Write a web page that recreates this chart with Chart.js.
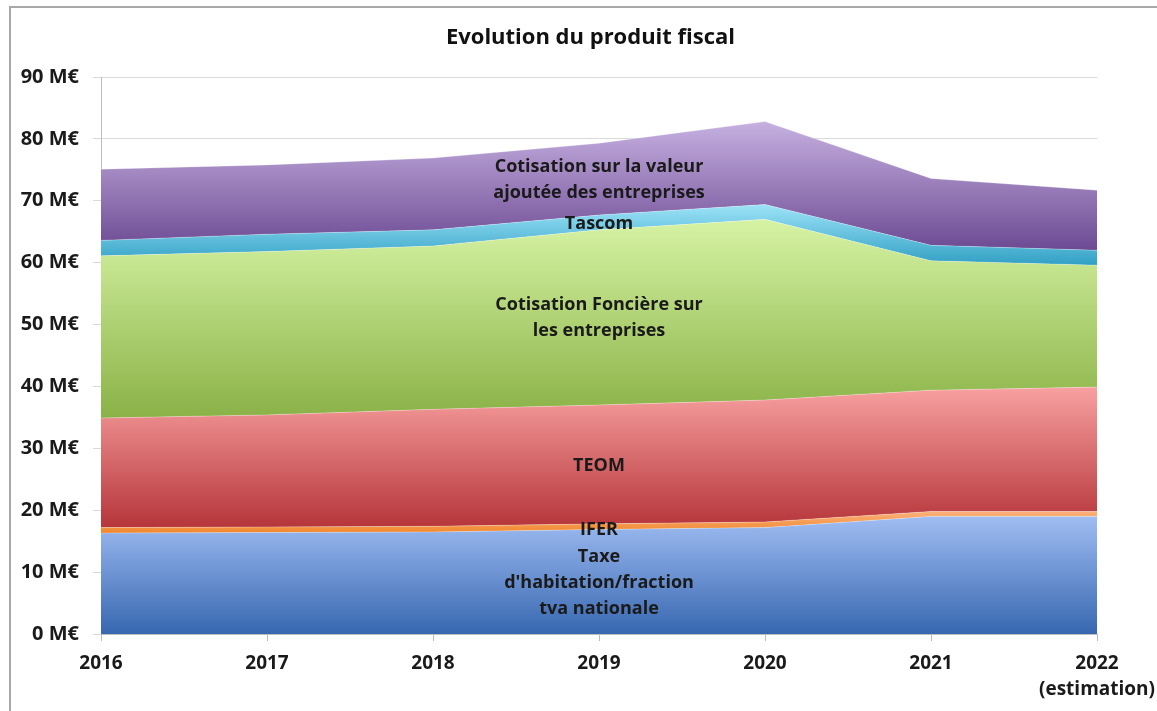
<!DOCTYPE html>
<html lang="fr">
<head>
<meta charset="utf-8">
<title>Evolution du produit fiscal</title>
<script src="https://cdn.jsdelivr.net/npm/chart.js@4.4.1/dist/chart.umd.min.js"></script>
<style>
  html, body { margin: 0; padding: 0; background: #fff; overflow: hidden; }
  #wrap { position: relative; width: 1157px; height: 711px; }
  #frame { position: absolute; left: 9px; top: 6px; width: 1300px; height: 900px;
           border-left: 2px solid #a8a8a8; border-top: 2px solid #a8a8a8; pointer-events: none; }
</style>
</head>
<body>
<div id="wrap">
  <canvas id="fiscalChart" width="1157" height="711"></canvas>
  <div id="frame"></div>
</div>
<script>
const years = ['2016', '2017', '2018', '2019', '2020', '2021', ['2022', '(estimation)']];

// valeurs en M€
const taxeHabitation = [16.3, 16.4, 16.5, 16.9, 17.2, 19.0, 19.0];
const ifer = [0.9, 0.9, 0.9, 0.9, 0.9, 0.8, 0.8];
const teom = [17.7, 18.1, 18.9, 19.2, 19.7, 19.6, 20.1];
const cfe = [26.2, 26.4, 26.4, 28.3, 29.2, 20.9, 19.7];
const tascom = [2.5, 2.8, 2.6, 2.4, 2.4, 2.5, 2.4];
const cvae = [11.5, 11.2, 11.6, 11.6, 13.4, 10.8, 9.7];

const yMax = 90;
const yStep = 10;

const FONT = "'Open Sans', Lato, 'DejaVu Sans', sans-serif";

// dégradé vertical sur l'étendue de la bande (comme Excel)
function bandGradient(light, dark) {
  return (context) => {
    const chart = context.chart;
    const { ctx, chartArea, scales } = chart;
    if (!chartArea || !scales.y) return dark;
    const i = context.datasetIndex;
    const lows = years.map(() => 0);
    for (let k = 0; k < i; k++) {
      chart.data.datasets[k].data.forEach((v, j) => { lows[j] += v; });
    }
    const highs = lows.map((v, j) => v + chart.data.datasets[i].data[j]);
    const top = scales.y.getPixelForValue(Math.max(...highs));
    const bottom = scales.y.getPixelForValue(Math.min(...lows));
    const g = ctx.createLinearGradient(0, top, 0, bottom);
    g.addColorStop(0, light);
    g.addColorStop(1, dark);
    return g;
  };
}

// titre centré sur la page (et non sur la zone du graphique)
const pageTitle = {
  id: 'pageTitle',
  afterDraw(chart, args, opts) {
    const { ctx, chartArea } = chart;
    ctx.save();
    ctx.font = `bold ${opts.size}px ${FONT}`;
    ctx.fillStyle = '#111';
    ctx.textAlign = 'center';
    ctx.textBaseline = 'middle';
    ctx.fillText(opts.text, chart.width / 2 + opts.shift, chartArea.top - opts.gap);
    ctx.restore();
  }
};

// libellés posés dans les bandes, à l'abscisse 2019
const bandLabels = {
  id: 'bandLabels',
  afterDatasetsDraw(chart, args, opts) {
    const { ctx, scales } = chart;
    ctx.save();
    ctx.font = `bold ${opts.size}px ${FONT}`;
    ctx.fillStyle = '#1a1a1a';
    ctx.textAlign = 'center';
    ctx.textBaseline = 'middle';
    const x = scales.x.getPixelForValue(opts.at);
    opts.items.forEach(item => {
      const y0 = scales.y.getPixelForValue(item.value);
      item.lines.forEach((line, n) => {
        ctx.fillText(line, x, y0 + n * opts.lineGap);
      });
    });
    ctx.restore();
  }
};

const ctx = document.getElementById('fiscalChart').getContext('2d');
const chart = new Chart(ctx, {
  type: 'line',
  data: {
    labels: years,
    datasets: [
      { label: "Taxe d'habitation/fraction tva nationale", data: taxeHabitation, fill: 'origin',
        backgroundColor: bandGradient('#a0bdf3', '#3767b0') },
      { label: 'IFER', data: ifer, fill: '-1',
        backgroundColor: bandGradient('#fbb27c', '#f0862c') },
      { label: 'TEOM', data: teom, fill: '-1',
        backgroundColor: bandGradient('#f8a0a0', '#b5353a') },
      { label: 'Cotisation Foncière sur les entreprises', data: cfe, fill: '-1',
        backgroundColor: bandGradient('#d6f3a4', '#8ab247') },
      { label: 'Tascom', data: tascom, fill: '-1',
        backgroundColor: bandGradient('#9de3f8', '#31a0c4') },
      { label: 'Cotisation sur la valeur ajoutée des entreprises', data: cvae, fill: '-1',
        backgroundColor: bandGradient('#c6b0e0', '#6c4a93') }
    ].map(ds => ({
      ...ds,
      borderColor: 'rgba(255,255,255,0.35)',
      borderWidth: 0.8,
      pointRadius: 0,
      tension: 0
    }))
  },
  options: {
    responsive: false,
    animation: false,
    layout: { padding: { left: 10, top: 77, right: 60, bottom: 8 } },
    plugins: {
      legend: { display: false },
      tooltip: { enabled: false },
      title: { display: false },
      pageTitle: { text: 'Evolution du produit fiscal', size: 22, shift: 12, gap: 39 },
      bandLabels: {
        at: 3,
        size: 18,
        lineGap: 26,
        items: [
          { lines: ['Cotisation sur la valeur', 'ajoutée des entreprises'], value: 75.5 },
          { lines: ['Tascom'], value: 66.2 },
          { lines: ['Cotisation Foncière sur', 'les entreprises'], value: 53.2 },
          { lines: ['TEOM'], value: 27.2 },
          { lines: ['IFER'], value: 16.9 },
          { lines: ['Taxe', "d'habitation/fraction", 'tva nationale'], value: 12.5 }
        ]
      }
    },
    scales: {
      x: {
        offset: false,
        grid: { drawOnChartArea: false, drawTicks: true, tickLength: 7, color: '#bdbdbd' },
        border: { color: '#bdbdbd' },
        ticks: {
          color: '#1a1a1a',
          font: { family: FONT, size: 19, weight: 'bold', lineHeight: 1.4 },
          padding: 9,
          maxRotation: 0,
          autoSkip: false
        },
        afterFit(scale) {
          scale.height = 69;
          scale.paddingLeft = 0;
          scale.paddingRight = 0;
        }
      },
      y: {
        stacked: true,
        min: 0,
        max: yMax,
        grid: { color: '#d9d9d9', tickLength: 8, drawTicks: true },
        border: { color: '#bdbdbd' },
        ticks: {
          stepSize: yStep,
          color: '#1a1a1a',
          font: { family: FONT, size: 20, weight: 'bold' },
          padding: 14,
          callback: v => v + ' M€'
        },
        afterFit(scale) { scale.width = 91; }
      }
    }
  },
  plugins: [bandLabels, pageTitle]
});
</script>
</body>
</html>
